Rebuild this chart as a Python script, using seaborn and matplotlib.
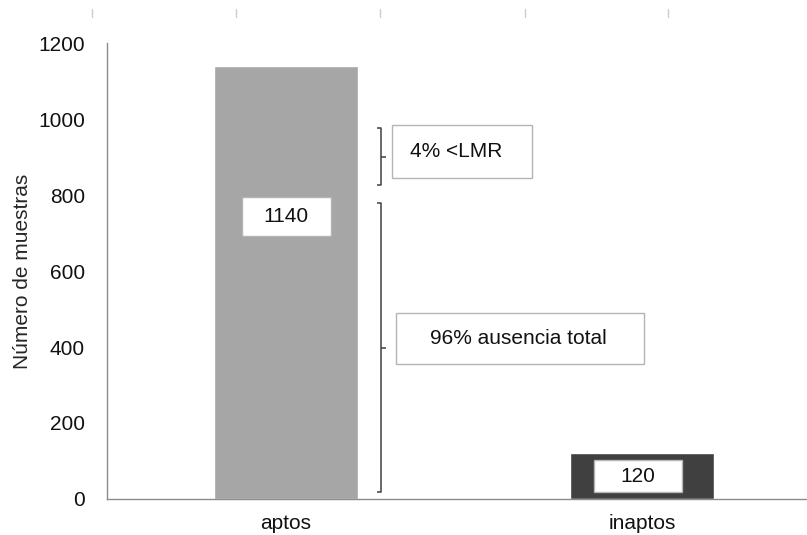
import matplotlib
matplotlib.use("Agg")
import matplotlib.pyplot as plt
from matplotlib.patches import Rectangle
from matplotlib.lines import Line2D
import seaborn as sns
import pandas as pd

# --- DATOS ---
categorias = ["aptos", "inaptos"]
muestras = [1140, 120]
colores = ["#a6a6a6", "#404040"]

# llaves del reparto de "aptos" (limites en numero de muestras)
llave_lmr = (826, 976)
llave_ausencia = (18, 779)
etiqueta_lmr = "4% <LMR"
etiqueta_ausencia = "96% ausencia total"

FS = 15

sns.set_theme(style="white")
plt.rcParams["font.family"] = ["Liberation Sans", "DejaVu Sans"]

df = pd.DataFrame({"grupo": categorias, "n": muestras})

fig = plt.figure(figsize=(8.07, 5.35), dpi=100)
ax = fig.add_axes([0.1326, 0.0673, 0.8674, 0.8523])

sns.barplot(data=df, x="grupo", y="n", hue="grupo", palette=colores,
            width=0.405, saturation=1, legend=False, ax=ax)

ax.set_ylim(0, 1200)
ax.set_xlim(-0.503, 1.463)
ax.set_yticks(range(0, 1201, 200))
ax.set_xlabel("")
ax.set_ylabel("Número de muestras", fontsize=FS, labelpad=4)
ax.tick_params(axis="y", length=0, pad=16, labelsize=FS, colors="#111111")
ax.tick_params(axis="x", length=0, pad=11, labelsize=FS, colors="#111111")

for s in ["top", "right"]:
    ax.spines[s].set_visible(False)
for s in ["left", "bottom"]:
    ax.spines[s].set_color("#8c8c8c")
    ax.spines[s].set_linewidth(1.0)


# --- CAJAS DE TEXTO ---
def caja(cx, cy, w, h, txt, tx=None):
    ax.add_patch(Rectangle((cx - w / 2, cy - h / 2), w, h, facecolor="white",
                           edgecolor="#b4b4b4", lw=1, zorder=4))
    ax.text(cx if tx is None else tx, cy, txt, ha="center", va="center",
            fontsize=FS, color="#111111", zorder=5)


caja(0.0, 743, 0.25, 103, str(muestras[0]))
caja(0.989, 60, 0.247, 84, str(muestras[1]))
caja(0.494, 914, 0.393, 139, etiqueta_lmr, tx=0.478)
caja(0.657, 422, 0.697, 134, etiqueta_ausencia, tx=0.652)


# --- LLAVES ---
def llave(y0, y1, x=0.267):
    ym = (y0 + y1) / 2
    kw = dict(color="#404040", lw=1.1, solid_capstyle="butt", zorder=3)
    ax.plot([x - 0.011, x, x, x - 0.011], [y0, y0, y1, y1], **kw)
    ax.plot([x, x + 0.014], [ym, ym], **kw)


llave(*llave_lmr)
llave(*llave_ausencia)

# marcas sueltas en la parte superior
for xp in [92, 236, 380, 525, 668]:
    fig.add_artist(Line2D([xp / 807, xp / 807], [1 - 9 / 535, 1 - 17 / 535],
                          color="#c8cfdb", lw=1))

plt.savefig("out.png", dpi=100)
plt.close()
